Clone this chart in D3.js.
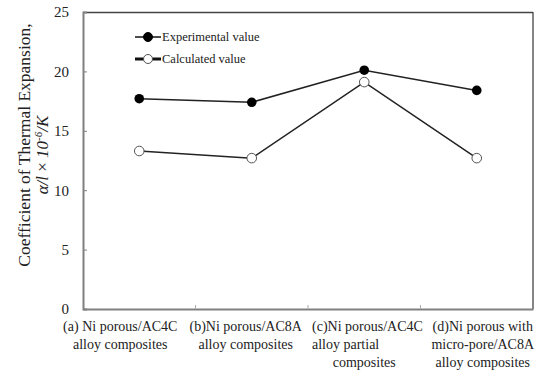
<!DOCTYPE html>
<html>
<head>
<meta charset="utf-8">
<script src="https://cdn.jsdelivr.net/npm/d3@7"></script>
<style>
  body { margin: 0; background: #fff; }
  svg { font-family: "Liberation Serif", "Times New Roman", serif; }
</style>
</head>
<body>
<div id="chart"></div>
<script>
// Category labels (each split into its printed lines)
const categories = ["a", "b", "c", "d"];
const categoryLines = [
    ["(a) Ni porous/AC4C", "alloy composites"],
    ["(b)Ni porous/AC8A", "alloy composites"],
    ["(c)Ni porous/AC4C", "alloy partial", "composites"],
    ["(d)Ni porous with", "micro-pore/AC8A", "alloy composites"]
];
const experimental = [17.7, 17.4, 20.1, 18.4];
const calculated = [13.3, 12.7, 19.1, 12.7];
const yTicks = [0, 5, 10, 15, 20, 25];

const width = 537, height = 373;
const margin = { top: 12, right: 4, bottom: 64, left: 83 };
const innerW = 533 - margin.left;
const innerH = 309 - margin.top;

const svg = d3.select("#chart").append("svg")
    .attr("width", width)
    .attr("height", height);

const g = svg.append("g")
    .attr("transform", "translate(" + margin.left + "," + margin.top + ")");

const x = d3.scaleBand().domain(categories).range([0, innerW]);
const y = d3.scaleLinear().domain([0, 25]).range([innerH, 0]);

// frame: top/right thin dark, left/bottom grey
g.append("line").attr("x1", 0).attr("x2", innerW).attr("y1", 0.5).attr("y2", 0.5)
    .attr("stroke", "#444").attr("stroke-width", 1.3);
g.append("line").attr("x1", innerW).attr("x2", innerW).attr("y1", 0).attr("y2", innerH)
    .attr("stroke", "#444").attr("stroke-width", 1.3);

// y axis (ticks inward)
const yAxis = g.append("g")
    .call(d3.axisLeft(y).tickValues(yTicks).tickSize(-4).tickPadding(14));
yAxis.select(".domain").attr("stroke", "#808080").attr("stroke-width", 2);
yAxis.selectAll(".tick line").attr("stroke", "#808080");
yAxis.selectAll(".tick text")
    .attr("fill", "#222")
    .style("font-size", "15px")
    .style("font-family", "Liberation Serif");

// x axis (tick marks at band boundaries, inward)
const xAxis = g.append("g")
    .attr("transform", "translate(0," + innerH + ")")
    .call(d3.axisBottom(x).tickSize(0).tickFormat(""));
xAxis.select(".domain").attr("stroke", "#808080").attr("stroke-width", 2);
xAxis.selectAll(".tick").remove();
categories.slice(1).forEach(c => {
    xAxis.append("line")
        .attr("x1", x(c)).attr("x2", x(c))
        .attr("y1", 0).attr("y2", -4)
        .attr("stroke", "#aaa");
});

// category labels
const labelPos = [
    { dx: -19, anchor: "middle" },
    { dx: -6, anchor: "middle" },
    { dx: null, anchor: "start" },
    { dx: 6, anchor: "middle" }
];
categoryLines.forEach((lines, i) => {
    const c = categories[i];
    const cx = x(c) + x.bandwidth() / 2;
    lines.forEach((t, j) => {
        let px = cx + (labelPos[i].dx || 0);
        let anchor = labelPos[i].anchor;
        if (labelPos[i].dx === null) {
            px = x(c) + 4;
            if (j === 2) { px = cx; anchor = "middle"; }
        }
        g.append("text")
            .attr("x", px)
            .attr("y", innerH + 22 + j * 18)
            .attr("text-anchor", anchor)
            .attr("fill", "#222")
            .style("font-size", "14px")
            .text(t);
    });
});

// y axis title
svg.append("text")
    .attr("transform", "translate(30,145) rotate(-90)")
    .attr("text-anchor", "middle")
    .attr("fill", "#222")
    .style("font-size", "17.5px")
    .text("Coefficient  of Thermal Expansion,");

const sub = svg.append("text")
    .attr("transform", "translate(48,155) rotate(-90)")
    .attr("text-anchor", "middle")
    .attr("fill", "#222")
    .style("font-size", "17px");
sub.append("tspan").style("font-style", "italic").text("α/l ");
sub.append("tspan").text("× ");
sub.append("tspan").style("font-style", "italic").text("10");
sub.append("tspan").attr("dy", -6).style("font-size", "11px").style("font-style", "italic").text("-6");
sub.append("tspan").attr("dy", 6).style("font-style", "italic").text("/K");

// lines
const line = d3.line()
    .x((d, i) => x(categories[i]) + x.bandwidth() / 2)
    .y(d => y(d));

[experimental, calculated].forEach(series => {
    g.append("path")
        .datum(series)
        .attr("fill", "none")
        .attr("stroke", "#222")
        .attr("stroke-width", 1.5)
        .attr("d", line);
});

g.selectAll(".exp")
    .data(experimental)
    .enter().append("circle")
    .attr("cx", (d, i) => x(categories[i]) + x.bandwidth() / 2)
    .attr("cy", d => y(d))
    .attr("r", 4.8)
    .attr("fill", "#000");

g.selectAll(".calc")
    .data(calculated)
    .enter().append("circle")
    .attr("cx", (d, i) => x(categories[i]) + x.bandwidth() / 2)
    .attr("cy", d => y(d))
    .attr("r", 4.8)
    .attr("fill", "#fff")
    .attr("stroke", "#555")
    .attr("stroke-width", 1);

// legend
const legend = svg.append("g");
const legendItems = [
    { label: "Experimental value", fill: "#000", stroke: "#000", lw: 1.5, y: 37 },
    { label: "Calculated value", fill: "#fff", stroke: "#555", lw: 3, y: 59 }
];
legendItems.forEach(it => {
    legend.append("line")
        .attr("x1", 135).attr("x2", 161)
        .attr("y1", it.y).attr("y2", it.y)
        .attr("stroke", "#111").attr("stroke-width", it.lw);
    legend.append("circle")
        .attr("cx", 148).attr("cy", it.y).attr("r", 4.5)
        .attr("fill", it.fill).attr("stroke", it.stroke);
    legend.append("text")
        .attr("x", 162).attr("y", it.y + 4)
        .attr("fill", "#222")
        .style("font-size", "12.5px")
        .text(it.label);
});
</script>
</body>
</html>
